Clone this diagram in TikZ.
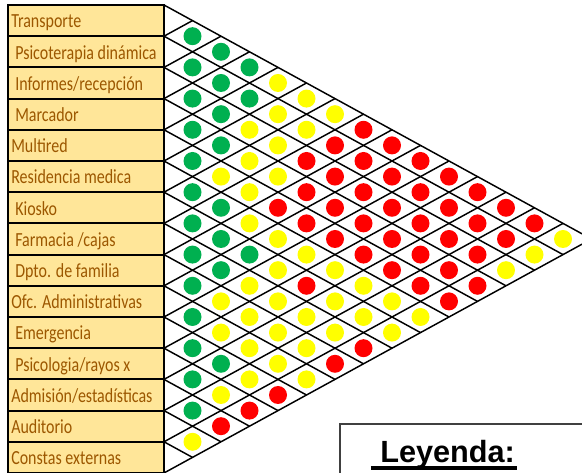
\documentclass[tikz,border=0pt]{standalone}
\usepackage{fontspec}
\setmainfont{Carlito}
\newfontfamily\arialfont{Liberation Sans}
\usepackage{graphicx}
\definecolor{cg}{HTML}{00B050}
\definecolor{cy}{HTML}{FFFF00}
\definecolor{cr}{HTML}{FF0000}
\definecolor{boxfill}{HTML}{FFE699}
\definecolor{boxtext}{HTML}{9C5700}
\definecolor{legborder}{HTML}{404040}
\begin{document}
\begin{tikzpicture}[x=0.75pt,y=-0.75pt,
  deptbox/.style={draw=black, line width=1.5pt, fill=boxfill, rectangle,
    minimum width=117pt, minimum height=23.4pt, inner sep=0pt},
  depttext/.style={anchor=base west, inner sep=0pt, text=boxtext,
    font=\fontsize{15}{18}\selectfont},
  gridline/.style={black, line width=1.1pt},
  dot/.style={circle, draw=none, minimum size=13.5pt, inner sep=0pt},
  legendbox/.style={draw=legborder, line width=1.2pt},
]
\useasboundingbox (0,0) rectangle (582,473);
\clip (0,0) rectangle (582,473);

% department boxes and texts
\foreach \i/\x/\t in {1/11/{Transporte}, 2/15/{Psicoterapia dinámica}, 3/15/{Informes/recepción},
  4/15/{Marcador}, 5/11/{Multired}, 6/11/{Residencia medica}, 7/15/{Kiosko},
  8/15/{Farmacia /cajas}, 9/15/{Dpto. de familia}, 10/11/{Ofc. Administrativas},
  11/15/{Emergencia}, 12/15/{Psicologia/rayos x}, 13/11/{Admisión/estadísticas},
  14/11/{Auditorio}, 15/11/{Constas externas}} {
  \node[deptbox] (b\i) at (86, {5+31.2*(\i-0.5)}) {};
  \node[depttext] (t\i) at (\x, {5+31.2*(\i-1)+23}) {\scalebox{0.8}[1]{\t}};
}

% grid of the relationship chart
\foreach \k in {0,...,15} {
  \draw[gridline] (164, {5+31.2*\k}) -- ++({28.5*(15-\k)}, {15.6*(15-\k)});
  \draw[gridline] (164, {5+31.2*\k}) -- ++({28.5*\k}, {-15.6*\k});
}

% relationship circles: s = i+j, d = j-i
\foreach \s/\d/\c in {
  3/1/cg,
  4/2/cg,
  5/1/cg, 5/3/cg,
  6/2/cg, 6/4/cy,
  7/1/cg, 7/3/cg, 7/5/cy,
  8/2/cg, 8/4/cy, 8/6/cy,
  9/1/cg, 9/3/cy, 9/5/cy, 9/7/cr,
  10/2/cg, 10/4/cy, 10/6/cr, 10/8/cr,
  11/1/cg, 11/3/cy, 11/5/cr, 11/7/cr, 11/9/cr,
  12/2/cy, 12/4/cy, 12/6/cr, 12/8/cr, 12/10/cr,
  13/1/cg, 13/3/cy, 13/5/cr, 13/7/cr, 13/9/cr, 13/11/cr,
  14/2/cg, 14/4/cr, 14/6/cr, 14/8/cr, 14/10/cr, 14/12/cr,
  15/1/cg, 15/3/cy, 15/5/cr, 15/7/cr, 15/9/cr, 15/11/cr, 15/13/cr,
  16/2/cg, 16/4/cy, 16/6/cr, 16/8/cr, 16/10/cr, 16/12/cr, 16/14/cy,
  17/1/cg, 17/3/cg, 17/5/cy, 17/7/cr, 17/9/cr, 17/11/cr, 17/13/cy,
  18/2/cg, 18/4/cy, 18/6/cy, 18/8/cr, 18/10/cr, 18/12/cy,
  19/1/cg, 19/3/cy, 19/5/cr, 19/7/cy, 19/9/cr, 19/11/cr,
  20/2/cy, 20/4/cy, 20/6/cy, 20/8/cy, 20/10/cr,
  21/1/cg, 21/3/cy, 21/5/cy, 21/7/cy, 21/9/cy,
  22/2/cy, 22/4/cy, 22/6/cy, 22/8/cy,
  23/1/cg, 23/3/cy, 23/5/cy, 23/7/cr,
  24/2/cg, 24/4/cy, 24/6/cr,
  25/1/cg, 25/3/cy, 25/5/cy,
  26/2/cy, 26/4/cr,
  27/1/cg, 27/3/cr,
  28/2/cr,
  29/1/cy} {
  \node[dot, fill=\c] (c\s-\d) at ({164+28.5*\d}, {5+15.6*(\s-1)}) {};
}

% legend
\draw[legendbox] (340,424) rectangle (600,490);
\node[anchor=base west, inner sep=0pt, font=\arialfont\bfseries\fontsize{23}{27}\selectfont]
  (ley) at (380,462.7) {Leyenda:};
\draw[line width=2.4pt] ([xshift=-6.8pt,yshift=-4pt]ley.base west) -- ([xshift=1.5pt,yshift=-4pt]ley.base east);
\end{tikzpicture}
\end{document}
